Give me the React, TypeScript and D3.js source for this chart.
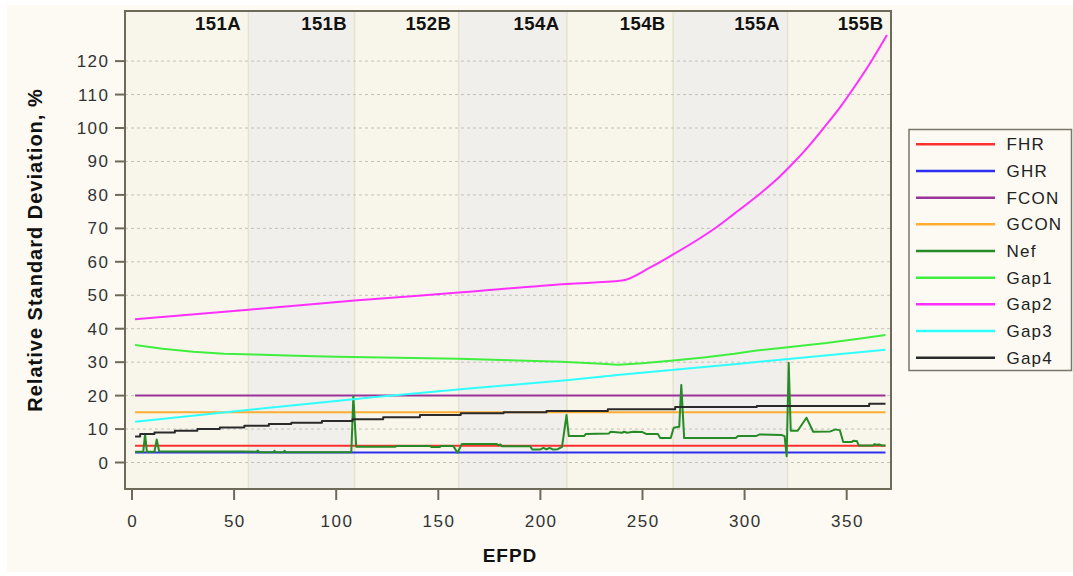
import React from "react";
import * as d3 from "d3";

// Canvas
const WIDTH = 1073;
const HEIGHT = 576;
const PLOT = { left: 125, right: 891, top: 11, bottom: 489 };

// Cycle bands along the EFPD axis
const cycleLabels = ["151A", "151B", "152B", "154A", "154B", "155A", "155B"];
const cycleEnds = [57, 109, 160, 213, 265, 321, 371.7];

// Axis ticks
const xTicks = [0, 50, 100, 150, 200, 250, 300, 350];
const yTicks = [0, 10, 20, 30, 40, 50, 60, 70, 80, 90, 100, 110, 120];

// Constant uncertainty components
const flatDays = [1.5, 369];
const fhrValues = [5, 5];
const ghrValues = [3, 3];
const fconValues = [20, 20];
const gconValues = [15, 15];

// Nef
const nefDays = [
  1.5, 5.5, 6.4, 7.3, 11.0, 12.1, 13.3, 54.5, 61.0, 61.6, 62.3, 69.3, 69.8, 70.3, 74.2, 74.7, 75.3,
  107.4, 108.4, 109.8, 129.0, 129.6, 146.0, 146.6, 150.6, 151.2, 157.4, 159.4, 161.5, 178.7, 179.6,
  180.4, 181.2, 195.0, 196.0, 200.0, 201.5, 203.0, 204.5, 206.0, 208.5, 210.6, 212.8, 213.9, 221.4,
  222.2, 233.6, 234.4, 240.0, 241.0, 242.5, 245.5, 250.0, 252.0, 257.5, 258.7, 263.8, 265.3, 268.0,
  269.0, 270.4, 295.7, 296.8, 305.5, 307.5, 318.0, 319.6, 320.6, 321.6, 322.6, 326.0, 330.3, 333.6,
  342.0, 344.6, 346.7, 348.3, 352.4, 353.2, 355.0, 355.9, 363.0, 363.6, 364.6, 366.0, 367.0, 369.0,
];
const nefValues = [
  3.2, 3.2, 8.5, 3.2, 3.2, 6.9, 3.3, 3.3, 3.2, 3.6, 3.1, 3.1, 3.5, 3.1, 3.1, 3.5, 3.1,
  3.1, 19.8, 4.7, 4.7, 4.95, 4.95, 4.6, 4.6, 4.9, 4.9, 2.9, 5.5, 5.5, 5.1,
  5.4, 4.85, 4.85, 3.9, 3.9, 4.4, 3.9, 4.4, 3.9, 4.0, 4.7, 14.2, 7.9, 7.9,
  8.5, 8.7, 9.2, 8.9, 9.2, 8.9, 9.2, 9.1, 8.5, 8.5, 7.3, 7.3, 10.4, 10.7,
  23.2, 7.3, 7.3, 7.9, 7.9, 8.4, 8.2, 7.9, 1.9, 29.8, 9.5, 9.5, 13.4, 9.2,
  9.3, 9.9, 9.6, 6.1, 6.1, 6.5, 6.4, 5.1, 5.1, 5.5, 5.3, 5.4, 5.1, 5.1,
];

// Gap1
const gap1Days = [1.5, 15, 30, 45, 60, 80, 100, 130, 160, 185, 210, 230, 238, 250, 265, 280, 295, 305, 320, 340, 355, 369];
const gap1Values = [35.1, 34.0, 33.1, 32.5, 32.3, 31.9, 31.6, 31.3, 31.0, 30.6, 30.1, 29.5, 29.2, 29.7, 30.5, 31.4, 32.5, 33.4, 34.4, 35.7, 36.9, 38.1];

// Gap2
const gap2Days = [1.5, 57, 109, 160, 213, 240, 254, 265, 277, 285, 295, 306, 315, 323, 331, 339, 347, 354, 362, 369.7];
const gap2Values = [42.8, 45.7, 48.4, 50.8, 53.4, 54.4, 58.4, 62.2, 66.6, 69.8, 74.4, 79.6, 84.2, 89.0, 94.3, 100.2, 106.4, 112.5, 119.9, 127.8];

// Gap3
const gap3Days = [1.5, 60, 118, 165, 214, 239, 300, 369];
const gap3Values = [12.2, 15.9, 19.5, 22.1, 24.7, 26.2, 29.7, 33.7];

// Gap4 (stepwise)
const gap4Days = [1.5, 4, 11, 21, 32, 43, 55, 67, 78, 93, 108, 123, 141, 161, 182, 203, 233, 266, 306, 361, 369];
const gap4Values = [7.8, 8.5, 9.0, 9.5, 10.0, 10.5, 11.0, 11.5, 11.9, 12.4, 12.9, 13.5, 14.2, 14.7, 15.0, 15.4, 15.9, 16.6, 16.9, 17.6, 17.6];

const seriesNames = ["FHR", "GHR", "FCON", "GCON", "Nef", "Gap1", "Gap2", "Gap3", "Gap4"];
const seriesColors = ["#FF3030", "#2E2EF0", "#993399", "#FFAD33", "#268A26", "#40EE40", "#FF30FF", "#30FFFF", "#2A2A2A"];

const FONT = "'Liberation Sans', Arial, Helvetica, sans-serif";
const FRAME = "#6E6A5A";

type Series = { name: string; color: string; days: number[]; values: number[]; curve: d3.CurveFactory };

export default function App() {
  const x = d3.scaleLinear().domain([-3.43, 371.7]).range([PLOT.left, PLOT.right]);
  const y = d3.scaleLinear().domain([-7.92, 134.98]).range([PLOT.bottom, PLOT.top]);

  const series: Series[] = [
    { days: flatDays, values: fhrValues, curve: d3.curveLinear },
    { days: flatDays, values: ghrValues, curve: d3.curveLinear },
    { days: flatDays, values: fconValues, curve: d3.curveLinear },
    { days: flatDays, values: gconValues, curve: d3.curveLinear },
    { days: nefDays, values: nefValues, curve: d3.curveLinear },
    { days: gap1Days, values: gap1Values, curve: d3.curveLinear },
    { days: gap2Days, values: gap2Values, curve: d3.curveMonotoneX },
    { days: gap3Days, values: gap3Values, curve: d3.curveLinear },
    { days: gap4Days, values: gap4Values, curve: d3.curveStepAfter },
  ].map((s, i) => ({ ...s, name: seriesNames[i], color: seriesColors[i] }));

  const bandStarts = [x.domain()[0], ...cycleEnds.slice(0, -1)];

  const legend = { x: 909, y: 129.5, w: 162.5, h: 241, row0: 144.3, rowStep: 26.67 };

  return (
    <svg
      width={WIDTH}
      height={HEIGHT}
      style={{ position: "absolute", left: 0, top: 0 }}
      fontFamily={FONT}
    >
      <rect x={0} y={0} width={WIDTH} height={HEIGHT} fill="#ffffff" />
      <rect x={7} y={5} width={WIDTH - 7} height={567} fill="#FCFAF3" />

      <defs>
        <clipPath id="plot-clip">
          <rect x={PLOT.left} y={PLOT.top} width={PLOT.right - PLOT.left} height={PLOT.bottom - PLOT.top} />
        </clipPath>
      </defs>

      {/* cycle bands */}
      {cycleLabels.map((lab, i) => (
        <rect
          key={lab}
          x={x(bandStarts[i])}
          y={PLOT.top}
          width={x(cycleEnds[i]) - x(bandStarts[i])}
          height={PLOT.bottom - PLOT.top}
          fill={i % 2 === 0 ? "#F8F6EA" : "#F0EFEB"}
        />
      ))}
      {cycleEnds.slice(0, -1).map((d, i) => (
        <line key={i} x1={x(d)} x2={x(d)} y1={PLOT.top} y2={PLOT.bottom} stroke="#E6E2D0" strokeWidth={1.5} />
      ))}

      {/* horizontal grid */}
      {yTicks.map((t) => (
        <line
          key={t}
          x1={PLOT.left}
          x2={PLOT.right}
          y1={y(t)}
          y2={y(t)}
          stroke="#C4C1B8"
          strokeWidth={1}
          strokeDasharray="3,3"
        />
      ))}

      {/* series */}
      <g clipPath="url(#plot-clip)">
        {series.map((s) => {
          const pts: [number, number][] = s.days.map((d, i) => [d, s.values[i]]);
          const path = d3
            .line<[number, number]>()
            .x((p) => x(p[0]))
            .y((p) => y(p[1]))
            .curve(s.curve)(pts);
          return <path key={s.name} d={path ?? ""} fill="none" stroke={s.color} strokeWidth={2} strokeLinejoin="round" />;
        })}
      </g>

      {/* cycle labels */}
      {cycleLabels.map((lab, i) => (
        <text
          key={lab}
          x={x(cycleEnds[i]) - 7.5}
          y={30}
          textAnchor="end"
          fontWeight="bold"
          fontSize={18.5}
          letterSpacing={0.4}
          fill="#111"
        >
          {lab}
        </text>
      ))}

      {/* frame */}
      <rect
        x={PLOT.left}
        y={PLOT.top}
        width={PLOT.right - PLOT.left}
        height={PLOT.bottom - PLOT.top}
        fill="none"
        stroke={FRAME}
        strokeWidth={2}
      />

      {/* y axis */}
      {yTicks.map((t) => (
        <g key={t}>
          <line x1={PLOT.left - 10} x2={PLOT.left} y1={y(t)} y2={y(t)} stroke={FRAME} strokeWidth={2} />
          <text x={109.5} y={y(t) + 6} textAnchor="end" fontSize={17} letterSpacing={1.5} fill="#333">
            {t}
          </text>
        </g>
      ))}

      {/* x axis */}
      {xTicks.map((t) => (
        <g key={t}>
          <line x1={x(t)} x2={x(t)} y1={PLOT.bottom} y2={PLOT.bottom + 11} stroke={FRAME} strokeWidth={2} />
          <text x={x(t) + 0.75} y={527} textAnchor="middle" fontSize={17} letterSpacing={1.5} fill="#333">
            {t}
          </text>
        </g>
      ))}

      <text x={510} y={562} textAnchor="middle" fontWeight="bold" fontSize={19} letterSpacing={1} fill="#111">
        EFPD
      </text>
      <text
        transform="translate(41.5,250) rotate(-90)"
        textAnchor="middle"
        fontWeight="bold"
        fontSize={20}
        letterSpacing={1}
        fill="#111"
      >
        Relative Standard Deviation, %
      </text>

      {/* legend */}
      <rect x={legend.x} y={legend.y} width={legend.w} height={legend.h} fill="#FCFAF3" stroke="#7A766A" strokeWidth={1.5} />
      {series.map((s, i) => {
        const ry = legend.row0 + i * legend.rowStep;
        return (
          <g key={s.name}>
            <line x1={916} x2={995} y1={ry} y2={ry} stroke={s.color} strokeWidth={2.5} />
            <text x={1006.5} y={ry + 6} fontSize={17} letterSpacing={1.2} fill="#222">
              {s.name}
            </text>
          </g>
        );
      })}
    </svg>
  );
}
